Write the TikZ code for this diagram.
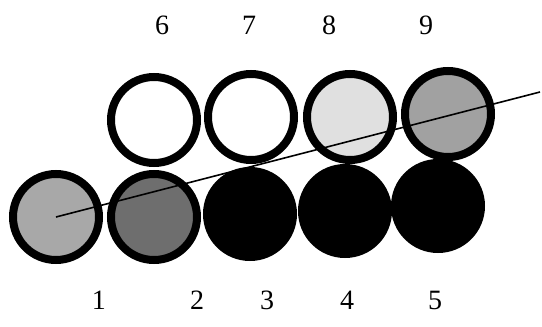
\documentclass[tikz,border=0pt]{standalone}
\usepackage{fontspec}
\setmainfont{Liberation Serif}
\begin{document}
\begin{tikzpicture}[x=1pt,y=-1pt,
  ball/.style={circle,draw=black,line width=8pt,minimum size=86pt,inner sep=0pt},
  lbl/.style={font=\fontsize{28}{30}\selectfont,inner sep=0pt}]
\useasboundingbox (0,0) rectangle (542,327);
\definecolor{gA}{gray}{0.66}
\definecolor{gB}{gray}{0.43}
\definecolor{gC}{gray}{0.88}
\definecolor{gD}{gray}{0.63}
% bottom row
\node[ball,fill=gA] (c1) at (56,217) {};
\node[ball,fill=gB] (c2) at (154,217) {};
\node[ball,fill=black] (c3) at (250,214) {};
\node[ball,fill=black] (c4) at (345,211) {};
\node[ball,fill=black] (c5) at (438,206) {};
% top row
\node[ball,fill=white] (c6) at (154,120) {};
\node[ball,fill=white] (c7) at (251,117) {};
\node[ball,fill=gC] (c8) at (350,117) {};
\node[ball,fill=gD] (c9) at (448,114) {};
% line
\coordinate (e) at (540,92);
\draw[line width=1.6pt] (c1.center) -- (e);
% labels
\node[lbl] (l6) at (162,25) {6};
\node[lbl] (l7) at (249,25) {7};
\node[lbl] (l8) at (329,25) {8};
\node[lbl] (l9) at (426,25) {9};
\node[lbl] (l1) at (99,300) {1};
\node[lbl] (l2) at (197,300) {2};
\node[lbl] (l3) at (267,300) {3};
\node[lbl] (l4) at (347,300) {4};
\node[lbl] (l5) at (435,300) {5};
\end{tikzpicture}
\end{document}
